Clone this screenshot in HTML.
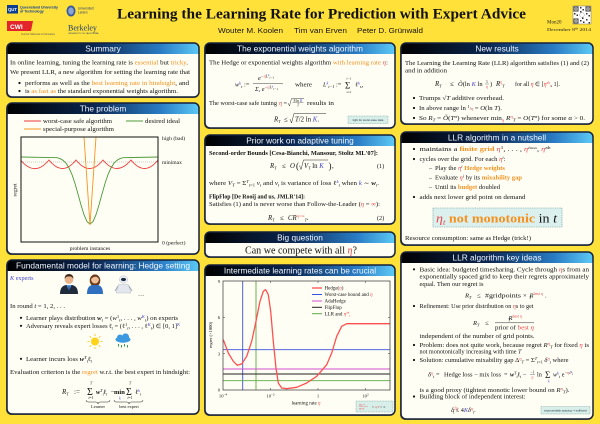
<!DOCTYPE html>
<html><head><meta charset="utf-8">
<style>
html,body{margin:0;padding:0;background:#FFE13A;width:600px;height:424px;overflow:hidden}
svg{display:block}
.o{fill:#F5901E}
.r{fill:#E8474B}
.bl{fill:#4545C8}
.i{font-style:italic}
.bd{font-weight:bold}
.h{font-family:"Liberation Sans",sans-serif;font-size:8.3px;fill:#F0F6FF;text-anchor:middle}
</style></head><body>
<svg width="600" height="424" viewBox="0 0 600 424" xmlns="http://www.w3.org/2000/svg">
<defs>
<linearGradient id="hg" x1="0" x2="1" y1="0" y2="0">
<stop offset="0" stop-color="#000"/>
<stop offset="0.45" stop-color="#0b2650"/>
<stop offset="0.8" stop-color="#2a7cc4"/>
<stop offset="1" stop-color="#5ccaf6"/>
</linearGradient>
</defs>
<rect width="600" height="424" fill="#FFE13A"/>

<!-- ===== HEADER ===== -->
<rect x="7" y="5" width="11" height="8.5" fill="#0b3d91"/>
<text x="12.5" y="11.2" font-family="Liberation Sans,sans-serif" font-size="4.3" font-weight="bold" fill="#fff" text-anchor="middle">QUT</text>
<text x="20" y="8.5" font-family="Liberation Sans,sans-serif" font-size="3.5" font-weight="bold" fill="#0b3d91">Queensland University</text>
<text x="20" y="12.3" font-family="Liberation Sans,sans-serif" font-size="3.5" font-weight="bold" fill="#0b3d91">of Technology</text>
<ellipse cx="71" cy="11" rx="4.5" ry="5.5" fill="#3a5a9a"/>
<ellipse cx="71" cy="11" rx="2.8" ry="3.6" fill="#8aa6d6"/>
<text x="78" y="9.5" font-family="Liberation Sans,sans-serif" font-size="3.2" fill="#2a3a6a">Universiteit</text>
<text x="78" y="13.5" font-family="Liberation Sans,sans-serif" font-size="3.2" fill="#2a3a6a">Leiden</text>
<polygon points="7,21 33,21 31,31 7,31" fill="#E3242B"/>
<text x="10" y="29" font-family="Liberation Sans,sans-serif" font-size="6.5" font-weight="bold" fill="#fff">CWI</text>
<text x="21" y="35" font-family="Liberation Sans,sans-serif" font-size="2.3" fill="#555">Centrum Wiskunde &amp; Informatica</text>
<text x="68" y="30.5" font-family="Liberation Serif,serif" font-size="8" fill="#1d3a6e">Berkeley</text>
<text x="68" y="34" font-family="Liberation Sans,sans-serif" font-size="2.2" fill="#1d3a6e">UNIVERSITY OF CALIFORNIA</text>

<text x="117" y="18.5" textLength="409" lengthAdjust="spacingAndGlyphs" font-family="Liberation Serif,serif" font-size="15" font-weight="bold" fill="#111">Learning the Learning Rate for Prediction with Expert Advice</text>
<g font-family="Liberation Sans,sans-serif" font-size="7.4" fill="#111">
<text x="218" y="33" textLength="65" lengthAdjust="spacingAndGlyphs">Wouter M. Koolen</text>
<text x="294" y="33" textLength="53" lengthAdjust="spacingAndGlyphs">Tim van Erven</text>
<text x="357" y="33" textLength="66" lengthAdjust="spacingAndGlyphs">Peter D. Grünwald</text>
</g>
<!-- QR -->
<rect x="573" y="6" width="18" height="18" fill="#fff" stroke="#555" stroke-width="0.4"/>
<g fill="#333">
<rect x="573.5" y="6.5" width="5" height="5"/><rect x="585.5" y="6.5" width="5" height="5"/><rect x="573.5" y="18.5" width="5" height="5"/>
<rect x="580" y="7" width="1.5" height="1.5"/><rect x="582.5" y="9" width="1.5" height="1.5"/><rect x="580" y="11" width="1.5" height="1.5"/>
<rect x="574" y="13" width="1.5" height="1.5"/><rect x="576.5" y="14.5" width="1.5" height="1.5"/><rect x="586" y="13" width="1.5" height="1.5"/>
<rect x="588.5" y="15" width="1.5" height="1.5"/><rect x="580" y="20" width="1.5" height="1.5"/><rect x="583" y="21.5" width="1.5" height="1.5"/>
<rect x="586" y="19" width="1.5" height="1.5"/><rect x="588.5" y="22" width="1.5" height="1.5"/><rect x="582" y="17.5" width="1.5" height="1.5"/>
</g>
<g fill="#fff"><rect x="574.5" y="7.5" width="3" height="3"/><rect x="586.5" y="7.5" width="3" height="3"/><rect x="574.5" y="19.5" width="3" height="3"/></g>
<g fill="#333"><rect x="575.3" y="8.3" width="1.4" height="1.4"/><rect x="587.3" y="8.3" width="1.4" height="1.4"/><rect x="575.3" y="20.3" width="1.4" height="1.4"/></g>
<circle cx="582" cy="15" r="2.3" fill="#fff" stroke="#888" stroke-width="0.4"/>
<text x="547" y="23.5" font-family="Liberation Serif,serif" font-size="5" fill="#222">Mon20</text>
<text x="547" y="31" textLength="44" lengthAdjust="spacingAndGlyphs" font-family="Liberation Serif,serif" font-size="4.2" fill="#222">December 8<tspan dy="-1.5" font-size="2.8">th</tspan><tspan dy="1.5"> 2014</tspan></text>

<!-- ===== BOX FRAMES ===== -->
<g>
<g fill="#1a2030" opacity="0.55">
<rect x="6" y="44" width="192" height="54" rx="5"/>
<rect x="6" y="104" width="192" height="151" rx="5"/>
<rect x="6" y="261" width="192" height="154" rx="5"/>
<rect x="204" y="44" width="190" height="85" rx="5"/>
<rect x="204" y="136" width="190" height="89" rx="5"/>
<rect x="204" y="233" width="190" height="25" rx="5"/>
<rect x="204" y="266" width="190" height="150" rx="5"/>
<rect x="400" y="44" width="192" height="81" rx="5"/>
<rect x="400" y="133" width="192" height="113" rx="5"/>
<rect x="400" y="253" width="192" height="167" rx="5"/>
</g>
<g fill="#FFFEF4">
<rect x="7" y="43" width="192" height="54" rx="5"/>
<rect x="7" y="103" width="192" height="151" rx="5"/>
<rect x="7" y="260" width="192" height="154" rx="5"/>
<rect x="205" y="43" width="190" height="85" rx="5"/>
<rect x="205" y="135" width="190" height="89" rx="5"/>
<rect x="205" y="232" width="190" height="25" rx="5"/>
<rect x="205" y="265" width="190" height="150" rx="5"/>
<rect x="401" y="43" width="192" height="81" rx="5"/>
<rect x="401" y="132" width="192" height="113" rx="5"/>
<rect x="401" y="252" width="192" height="167" rx="5"/>
</g>
<g fill="url(#hg)">
<path d="M7,54 V48 Q7,43 12,43 H194 Q199,43 199,48 V54 Z"/>
<path d="M7,114 V108 Q7,103 12,103 H194 Q199,103 199,108 V114 Z"/>
<path d="M7,271 V265 Q7,260 12,260 H194 Q199,260 199,265 V271 Z"/>
<path d="M205,54 V48 Q205,43 210,43 H390 Q395,43 395,48 V54 Z"/>
<path d="M205,146 V140 Q205,135 210,135 H390 Q395,135 395,140 V146 Z"/>
<path d="M205,243 V237 Q205,232 210,232 H390 Q395,232 395,237 V243 Z"/>
<path d="M205,276 V270 Q205,265 210,265 H390 Q395,265 395,270 V276 Z"/>
<path d="M401,54 V48 Q401,43 406,43 H588 Q593,43 593,48 V54 Z"/>
<path d="M401,143 V137 Q401,132 406,132 H588 Q593,132 593,137 V143 Z"/>
<path d="M401,263 V257 Q401,252 406,252 H588 Q593,252 593,257 V263 Z"/>
</g>
<g fill="none" stroke="#14203c" stroke-width="1.5">
<rect x="7" y="43" width="192" height="54" rx="5"/>
<rect x="7" y="103" width="192" height="151" rx="5"/>
<rect x="7" y="260" width="192" height="154" rx="5"/>
<rect x="205" y="43" width="190" height="85" rx="5"/>
<rect x="205" y="135" width="190" height="89" rx="5"/>
<rect x="205" y="232" width="190" height="25" rx="5"/>
<rect x="205" y="265" width="190" height="150" rx="5"/>
<rect x="401" y="43" width="192" height="81" rx="5"/>
<rect x="401" y="132" width="192" height="113" rx="5"/>
<rect x="401" y="252" width="192" height="167" rx="5"/>
</g>
<text class="h" x="103" y="51.6">Summary</text>
<text class="h" x="103" y="111.6">The problem</text>
<text class="h" x="103" y="268.6" textLength="174" lengthAdjust="spacingAndGlyphs">Fundamental model for learning: Hedge setting</text>
<text class="h" x="300" y="51.6">The exponential weights algorithm</text>
<text class="h" x="300" y="143.6">Prior work on adaptive tuning</text>
<text class="h" x="300" y="240.6">Big question</text>
<text class="h" x="300" y="273.6">Intermediate learning rates can be crucial</text>
<text class="h" x="497" y="51.6">New results</text>
<text class="h" x="497" y="140.6">LLR algorithm in a nutshell</text>
<text class="h" x="497" y="260.6">LLR algorithm key ideas</text>
</g>

<!-- ===== BODY TEXT ===== -->
<g font-family="Liberation Serif,serif" font-size="6.2" fill="#111">

<!-- Summary -->
<text x="10" y="64.5" textLength="178" lengthAdjust="spacingAndGlyphs">In online learning, tuning the learning rate is <tspan class="o">essential</tspan> but <tspan class="o">tricky</tspan>.</text>
<text x="10" y="74" textLength="180" lengthAdjust="spacingAndGlyphs">We present LLR, a new algorithm for setting the learning rate that</text>
<circle cx="19.5" cy="83" r="1.1"/>
<text x="25" y="85" textLength="164" lengthAdjust="spacingAndGlyphs">performs as well as the <tspan class="o">best learning rate in hindsight</tspan>, and</text>
<circle cx="19.5" cy="91" r="1.1"/>
<text x="25" y="93" textLength="153" lengthAdjust="spacingAndGlyphs">is <tspan class="o">as fast as</tspan> the standard exponential weights algorithm.</text>

<!-- Problem -->
<line x1="24" y1="121" x2="41" y2="121" stroke="#EE3B3B" stroke-width="0.9"/>
<text x="43" y="123" font-size="5.8" textLength="69" lengthAdjust="spacingAndGlyphs">worst-case safe algorithm</text>
<line x1="126" y1="121" x2="143" y2="121" stroke="#4C9A3A" stroke-width="0.9"/>
<text x="145" y="123" font-size="5.8" textLength="35" lengthAdjust="spacingAndGlyphs">desired ideal</text>
<line x1="24" y1="129" x2="41" y2="129" stroke="#F7941D" stroke-width="0.9"/>
<text x="43" y="131" font-size="5.8" textLength="71" lengthAdjust="spacingAndGlyphs">special-purpose algorithm</text>
<line x1="21" y1="162" x2="158" y2="162" stroke="#999" stroke-width="0.5" stroke-dasharray="1 1"/>
<path d="M21,160.5 Q35,177 49,160 Q62.5,177 76,160 Q89.5,177 103,160 Q117,177 131,160 Q144.5,177 158,160" fill="none" stroke="#EE3B3B" stroke-width="0.9"/>
<polyline points="21,157 57,157.7 60,158.6 63,160.3 66,163.2 69,167.9 72,174.6 75,183.5 78,194 81,205 84,214.7 87,221.6 90,224 93,221.6 96,214.7 99,205 102,194 105,183.5 108,174.6 111,167.9 114,163.2 117,160.3 120,158.6 123,157.7 158,157" fill="none" stroke="#4C9A3A" stroke-width="0.9"/>
<path d="M84,137 Q88.5,205 90,225 Q91.5,205 96,137" fill="none" stroke="#F7941D" stroke-width="0.9"/>
<rect x="21" y="137" width="137" height="105" fill="none" stroke="#111" stroke-width="1"/>
<text x="162" y="140" font-size="5.6">high (bad)</text>
<text x="162" y="164" font-size="5.6">minimax</text>
<text x="162" y="244.5" font-size="5.6">0 (perfect)</text>
<text x="90" y="250" font-size="5.6" text-anchor="middle">problem instances</text>
<text transform="translate(16.5,190) rotate(-90)" font-size="5.6" text-anchor="middle">regret</text>

<!-- Fundamental -->
<text x="10" y="280" class="bl"><tspan class="i">K</tspan> experts</text>
<path d="M60,294 Q60,286 66,285 L72,285 Q78,286 78,294 Z" fill="#1f2a3a"/>
<path d="M66.5,285 L69,291 L71.5,285 Z" fill="#5a9ae0"/>
<path d="M68.6,286 L69.4,286 L69.6,290 L69,291 L68.4,290 Z" fill="#1a3a7a"/>
<circle cx="69" cy="279.6" r="4.3" fill="#e9b48a"/>
<path d="M64.7,279 Q64.5,274 69,274 Q73.5,274 73.3,279 Q72,276 69,276.5 Q66,276 64.7,279 Z" fill="#3b2515"/>
<ellipse cx="95" cy="280.5" rx="5.3" ry="6" fill="#6b3b1a"/>
<path d="M87,294 Q87,286 92,285 L98,285 Q103,286 103,294 Z" fill="#2f6fc0"/>
<circle cx="95" cy="279.6" r="3.9" fill="#f0c09a"/>
<path d="M91,279 Q91,274.5 95,274.5 Q99,274.5 99,279 Q97,276.5 95,276.8 Q93,277 91,279Z" fill="#6b3b1a"/>
<path d="M118.5,284.5 L128.5,284.5 L131,293 L116,293 Z" fill="#e4e8ee" stroke="#a8b0bc" stroke-width="0.4"/>
<line x1="118" y1="286" x2="115" y2="291" stroke="#9aa4b0" stroke-width="1"/>
<line x1="129" y1="286" x2="132" y2="291" stroke="#9aa4b0" stroke-width="1"/>
<ellipse cx="123.5" cy="279.5" rx="4.2" ry="3.7" fill="#eef1f6" stroke="#a8b0bc" stroke-width="0.4"/>
<ellipse cx="123.5" cy="279.5" rx="2.6" ry="1.6" fill="#1a2a40"/>
<text x="138" y="296">…</text>

<text x="10" y="308" textLength="55" lengthAdjust="spacingAndGlyphs">In round <tspan class="i">t</tspan> = 1, 2, . . .</text>
<circle cx="21" cy="317.8" r="1.1"/>
<text x="26" y="320" textLength="152" lengthAdjust="spacingAndGlyphs">Learner plays distribution <tspan class="bd i">w</tspan><tspan dy="1.3" font-size="4.3" class="i">t</tspan><tspan dy="-1.3"> = (</tspan><tspan class="i">w</tspan><tspan dy="-2" font-size="4.3">1</tspan><tspan dy="3.3" font-size="4.3" class="i">t</tspan><tspan dy="-1.3">, . . . , </tspan><tspan class="i">w</tspan><tspan dy="-2" font-size="4.3" class="i bl">K</tspan><tspan dy="3.3" font-size="4.3" class="i">t</tspan><tspan dy="-1.3">) on experts</tspan></text>
<circle cx="21" cy="325.8" r="1.1"/>
<text x="26" y="328" textLength="154" lengthAdjust="spacingAndGlyphs">Adversary reveals expert losses <tspan class="bd">ℓ</tspan><tspan dy="1.3" font-size="4.3" class="i">t</tspan><tspan dy="-1.3"> = (ℓ</tspan><tspan dy="-2" font-size="4.3">1</tspan><tspan dy="3.3" font-size="4.3" class="i">t</tspan><tspan dy="-1.3">, . . . , ℓ</tspan><tspan dy="-2" font-size="4.3" class="i bl">K</tspan><tspan dy="3.3" font-size="4.3" class="i">t</tspan><tspan dy="-1.3">) ∈ [0, 1]</tspan><tspan dy="-2.2" font-size="4.3" class="i bl">K</tspan></text>
<g stroke="#F5C000" stroke-width="0.8">
<line x1="95" y1="334" x2="95" y2="336"/><line x1="95" y1="347" x2="95" y2="349"/>
<line x1="87.5" y1="341.5" x2="89.5" y2="341.5"/><line x1="100.5" y1="341.5" x2="102.5" y2="341.5"/>
<line x1="89.7" y1="336.2" x2="91.1" y2="337.6"/><line x1="98.9" y1="345.4" x2="100.3" y2="346.8"/>
<line x1="89.7" y1="346.8" x2="91.1" y2="345.4"/><line x1="98.9" y1="337.6" x2="100.3" y2="336.2"/>
</g>
<circle cx="95" cy="341.5" r="4" fill="#FFD31A"/>
<ellipse cx="123" cy="339.5" rx="7.5" ry="3.2" fill="#3d9ae0"/>
<circle cx="120" cy="337.5" r="3" fill="#3d9ae0"/>
<circle cx="125.5" cy="337" r="3.6" fill="#3d9ae0"/>
<g fill="#3aa050"><rect x="118" y="344" width="1" height="2.5"/><rect x="121" y="345" width="1" height="2.5"/><rect x="124" y="344" width="1" height="2.5"/><rect x="127" y="345" width="1" height="2.5"/></g>
<circle cx="21" cy="358.8" r="1.1"/>
<text x="26" y="361" textLength="66" lengthAdjust="spacingAndGlyphs">Learner incurs loss <tspan class="bd i">w</tspan><tspan dy="-2" font-size="4.3" class="i">T</tspan><tspan dy="3.3" font-size="4.3" class="i">t</tspan><tspan dy="-1.3" class="bd">ℓ</tspan><tspan dy="1.3" font-size="4.3" class="i">t</tspan></text>
<text x="10" y="374" textLength="180" lengthAdjust="spacingAndGlyphs">Evaluation criterion is the <tspan class="o">regret</tspan> w.r.t. the best expert in hindsight:</text>
<text x="62" y="394" class="i" font-size="7">R<tspan dy="1.3" font-size="4.3">T</tspan></text>
<text x="74" y="394" font-size="7">:=</text>
<text x="87" y="395" font-size="10">Σ</text>
<text x="91" y="384.5" font-size="3.8" text-anchor="middle" class="i">T</text>
<text x="91" y="399" font-size="3.8" text-anchor="middle"><tspan class="i">t</tspan>=1</text>
<text x="96" y="394" font-size="6.5"><tspan class="bd i">w</tspan><tspan dy="-2" font-size="4" class="i">T</tspan><tspan dy="3.3" font-size="4" class="i">t</tspan><tspan dy="-1.3" class="bd">ℓ</tspan><tspan dy="1.3" font-size="4" class="i">t</tspan></text>
<text x="110.5" y="394" font-size="6.5">−</text>
<text x="114" y="394" font-size="6.5" class="bd">min</text>
<text x="119" y="399.5" font-size="3.8" class="i bl">k</text>
<text x="126" y="395" font-size="10">Σ</text>
<text x="130" y="384.5" font-size="3.8" text-anchor="middle" class="i">T</text>
<text x="130" y="399" font-size="3.8" text-anchor="middle"><tspan class="i">t</tspan>=1</text>
<text x="135" y="394" font-size="6.5">ℓ<tspan dy="-2.2" font-size="4" class="i bl">k</tspan><tspan dy="3.5" font-size="4" class="i">t</tspan></text>
<path d="M86,400 Q86,402 88,402 H96 Q98,402 98,404 Q98,402 100,402 H108 Q110,402 110,400" fill="none" stroke="#222" stroke-width="0.5"/>
<path d="M114,400 Q114,402 116,402 H127 Q129,402 129,404 Q129,402 131,402 H141 Q143,402 143,400" fill="none" stroke="#222" stroke-width="0.5"/>
<text x="98" y="408" font-size="4.5" text-anchor="middle">Learner</text>
<text x="129" y="408" font-size="4.5" text-anchor="middle">best expert</text>

<!-- ===== MIDDLE ===== -->
<text x="209" y="64.5" textLength="179" lengthAdjust="spacingAndGlyphs">The Hedge or exponential weights algorithm <tspan class="o">with learning rate </tspan><tspan class="r i">η</tspan>:</text>
<text x="235" y="86.5" class="i">w<tspan dy="-2.2" font-size="4.3" class="bl">k</tspan><tspan dy="3.5" font-size="4.3">t</tspan></text>
<text x="244" y="86.5">:=</text>
<text x="258" y="80" class="i">e<tspan dy="-2.5" font-size="4.2">−<tspan class="r">η</tspan>L<tspan dy="-1.3" font-size="3.3" class="bl">k</tspan><tspan dy="2.4" font-size="3.3">t−1</tspan></tspan></text>
<line x1="253" y1="83.5" x2="283" y2="83.5" stroke="#111" stroke-width="0.4"/>
<text x="255" y="91" class="i">Σ<tspan dy="1.2" font-size="3.5" class="bl">k</tspan><tspan dy="-1.2"> e</tspan><tspan dy="-2.3" font-size="4.2">−<tspan class="r">η</tspan>L<tspan dy="-1.3" font-size="3.3" class="bl">k</tspan><tspan dy="2.4" font-size="3.3">t−1</tspan></tspan></text>
<text x="295" y="86.5" textLength="17" lengthAdjust="spacingAndGlyphs">where</text>
<text x="323" y="86.5" class="i">L<tspan dy="-2.2" font-size="4.3" class="bl">k</tspan><tspan dy="3.5" font-size="4.3">t−1</tspan></text>
<text x="336" y="86.5">:=</text>
<text x="345" y="88.5" font-size="9">Σ</text>
<text x="349" y="79.5" font-size="3.5" text-anchor="middle" class="i">t−1</text>
<text x="349" y="93" font-size="3.5" text-anchor="middle"><tspan class="i">s</tspan>=1</text>
<text x="355" y="86.5">ℓ<tspan dy="-2.2" font-size="4.3" class="i bl">k</tspan><tspan dy="3.5" font-size="4.3" class="i">s</tspan><tspan dy="-1.3">,</tspan></text>

<text x="209" y="105" textLength="68" lengthAdjust="spacingAndGlyphs">The worst-case safe tuning</text>
<text x="279" y="105" class="r i">η</text>
<text x="283.5" y="105">=</text>
<path d="M288,103 L289.5,106 L291.5,98.5 H304" fill="none" stroke="#111" stroke-width="0.4"/>
<text x="298" y="101.8" font-size="3.6" text-anchor="middle">8 ln <tspan class="i bl">K</tspan></text>
<line x1="292.5" y1="102.7" x2="303.5" y2="102.7" stroke="#111" stroke-width="0.3"/>
<text x="298" y="106.3" font-size="3.6" text-anchor="middle" class="i">T</text>
<text x="307" y="105" textLength="27" lengthAdjust="spacingAndGlyphs">results in</text>

<text x="274" y="121.5" class="i" font-size="6.8">R<tspan dy="1.3" font-size="4.3">T</tspan></text>
<text x="284" y="121.5" font-size="6.8">≤</text>
<path d="M290,119 L291.5,123 L294,113.5 H326" fill="none" stroke="#111" stroke-width="0.45"/>
<text x="295" y="121.5" font-size="6.8"><tspan class="i">T</tspan>/2 ln <tspan class="i bl">K</tspan>.</text>
<rect x="348" y="116" width="40" height="7.5" fill="#D8EFE9" stroke="#5a8a90" stroke-width="0.4" stroke-dasharray="1 0.6"/>
<text x="368" y="121" font-size="2.9" text-anchor="middle" font-family="Liberation Sans,sans-serif" fill="#234">tight for worst-case data</text>

<!-- Prior work -->
<text x="209" y="155" textLength="169" lengthAdjust="spacingAndGlyphs" class="bd">Second-order Bounds [Cesa-Bianchi, Mansour, Stoltz ML'07]:</text>
<text x="270" y="168" class="i" font-size="6.8">R<tspan dy="1.3" font-size="4.3">T</tspan></text>
<text x="282" y="168" font-size="6.8">≤</text>
<text x="290" y="168" font-size="6.8" class="i">O</text>
<text x="296" y="169" font-size="9">(</text>
<path d="M299.5,165.5 L301,169.5 L303.5,160 H328" fill="none" stroke="#111" stroke-width="0.45"/>
<text x="304" y="168" font-size="6.8"><tspan class="i">V</tspan><tspan dy="1.3" font-size="4.3" class="i">T</tspan><tspan dy="-1.3"> ln </tspan><tspan class="i bl">K</tspan></text>
<text x="328.5" y="169" font-size="9">)</text>
<text x="332" y="168" font-size="6.8">,</text>
<text x="377" y="168">(1)</text>
<text x="209" y="185" textLength="170" lengthAdjust="spacingAndGlyphs">where <tspan class="i">V</tspan><tspan dy="1.3" font-size="4.3" class="i">T</tspan><tspan dy="-1.3"> = Σ</tspan><tspan dy="-2.2" font-size="4" class="i">T</tspan><tspan dy="3.5" font-size="4"><tspan class="i">t</tspan>=1</tspan><tspan dy="-1.3"> </tspan><tspan class="i">v</tspan><tspan dy="1.3" font-size="4.3" class="i">t</tspan><tspan dy="-1.3"> and </tspan><tspan class="i">v</tspan><tspan dy="1.3" font-size="4.3" class="i">t</tspan><tspan dy="-1.3"> is variance of loss ℓ</tspan><tspan dy="-2.2" font-size="4.3" class="i bl">k</tspan><tspan dy="3.5" font-size="4.3" class="i">t</tspan><tspan dy="-1.3"> when </tspan><tspan class="i bl">k</tspan><tspan> ∼ </tspan><tspan class="bd i">w</tspan><tspan dy="1.3" font-size="4.3" class="i">t</tspan><tspan dy="-1.3">.</tspan></text>
<text x="209" y="198.5" textLength="96" lengthAdjust="spacingAndGlyphs" class="bd">FlipFlop [De Rooij and us, JMLR'14]:</text>
<text x="209" y="206" textLength="171" lengthAdjust="spacingAndGlyphs">Satisfies (1) and is never worse than Follow-the-Leader (<tspan class="r i">η</tspan> = <tspan class="r">∞</tspan>):</text>
<text x="268" y="220" class="i" font-size="6.8">R<tspan dy="1.3" font-size="4.3">T</tspan></text>
<text x="280" y="220" font-size="6.8">≤</text>
<text x="288" y="220" font-size="6.8" class="i">CR<tspan dy="-2.5" font-size="4.2" class="r">η=∞</tspan><tspan dy="3.8" font-size="4.2">T</tspan><tspan dy="-1.3" font-style="normal">.</tspan></text>
<text x="377" y="220">(2)</text>

<!-- Big question -->
<text x="245" y="253.5" textLength="112" lengthAdjust="spacingAndGlyphs" font-size="10.5">Can we compete with all <tspan class="r i">η</tspan>?</text>

<!-- Intermediate chart -->
<g stroke-width="0.9" fill="none">
<line x1="242.7" y1="281" x2="242.7" y2="390" stroke="#3a50e0"/>
<line x1="256" y1="281" x2="256" y2="390" stroke="#5aaa40"/>
<line x1="223" y1="349.7" x2="390" y2="349.7" stroke="#3a50e0"/>
<line x1="223" y1="369" x2="390" y2="369" stroke="#d050d0"/>
<line x1="223" y1="374" x2="390" y2="374" stroke="#222"/>
<line x1="223" y1="380.7" x2="390" y2="380.7" stroke="#5aaa40"/>
<polyline stroke="#ff5050" stroke-width="1.3" stroke-linejoin="round" points="223.3,339.7 228.3,353 233.3,361.3 237.3,365.3 241.7,364 246.7,356.3 251.7,341.3 256,321.3 260,301.3 263.3,291.3 265.7,289.7 268.3,294.7 270.7,311.3 273.3,341.3 276,368 278.3,383 281.7,388 286.7,388.7 296.7,387.3 306.7,383 316.7,376.3 326.7,364.7 331.7,353 336.7,336.3 341.7,326.3 346.7,323.7 390,323.7"/>
<rect x="223" y="281" width="167" height="109" stroke="#333" stroke-width="0.7"/>
</g>
<g stroke="#333" stroke-width="0.5">
<line x1="223" y1="317.3" x2="225" y2="317.3"/><line x1="223" y1="353.7" x2="225" y2="353.7"/>
<line x1="388" y1="317.3" x2="390" y2="317.3"/><line x1="388" y1="353.7" x2="390" y2="353.7"/>
<line x1="270.5" y1="390" x2="270.5" y2="388"/><line x1="318" y1="390" x2="318" y2="388"/><line x1="365.5" y1="390" x2="365.5" y2="388"/>
<line x1="270.5" y1="281" x2="270.5" y2="283"/><line x1="318" y1="281" x2="318" y2="283"/><line x1="365.5" y1="281" x2="365.5" y2="283"/>
</g>
<g font-size="4.6">
<text x="220" y="283" text-anchor="end">9</text>
<text x="220" y="319" text-anchor="end">6</text>
<text x="220" y="355.5" text-anchor="end">3</text>
<text x="220" y="391.5" text-anchor="end">0</text>
<text x="223" y="397.5" text-anchor="middle">10<tspan dy="-1.8" font-size="3.4">−4</tspan></text>
<text x="270.5" y="397.5" text-anchor="middle">10<tspan dy="-1.8" font-size="3.4">−2</tspan></text>
<text x="318" y="397.5" text-anchor="middle">1</text>
<text x="365.5" y="397.5" text-anchor="middle">10<tspan dy="-1.8" font-size="3.4">2</tspan></text>
</g>
<text x="306" y="404.5" font-size="5" text-anchor="middle">learning rate <tspan class="r i">η</tspan></text>
<text transform="translate(212,335) rotate(-90)" font-size="4.5" text-anchor="middle">regret (×1000)</text>
<g stroke-width="1">
<line x1="312" y1="288" x2="322" y2="288" stroke="#ff5050" stroke-width="1.3"/>
<line x1="312" y1="294.5" x2="322" y2="294.5" stroke="#3a50e0"/>
<line x1="312" y1="301" x2="322" y2="301" stroke="#d050d0"/>
<line x1="312" y1="307.3" x2="322" y2="307.3" stroke="#222"/>
<line x1="312" y1="313.7" x2="322" y2="313.7" stroke="#5aaa40"/>
</g>
<g font-size="5">
<text x="324.5" y="289.7">Hedge(<tspan class="r i">η</tspan>)</text>
<text x="324.5" y="296.2">Worst-case bound and <tspan class="r i">η</tspan></text>
<text x="324.5" y="302.7">AdaHedge</text>
<text x="324.5" y="309">FlipFlop</text>
<text x="324.5" y="315.4">LLR and <tspan class="r i">η</tspan><tspan dy="-1.8" font-size="3.4" class="r">ah</tspan><tspan dy="3.2" font-size="3.4" class="r i">t</tspan></text>
</g>
<rect x="356" y="401" width="37" height="11" fill="#D8EFE9" stroke="#5a8a90" stroke-width="0.4" stroke-dasharray="1 0.6"/>
<text x="359" y="405.5" font-size="3" class="r i">η<tspan font-size="2.3">ah</tspan> <tspan font-style="normal">≈</tspan></text>
<line x1="359" y1="406.5" x2="368" y2="406.5" stroke="#E8474B" stroke-width="0.3"/>
<text x="359" y="409.7" font-size="3" class="r i">η<tspan font-size="2.3">FTL</tspan></text>
<text x="372" y="408" font-size="3.4" fill="#234">≈ <tspan class="r">η/T</tspan> ≈ ∞</text>

<!-- ===== RIGHT ===== -->
<text x="405" y="65" textLength="184" lengthAdjust="spacingAndGlyphs">The Learning the Learning Rate (LLR) algorithm satisfies (1) and (2)</text>
<text x="405" y="72.5" textLength="42" lengthAdjust="spacingAndGlyphs">and in addition</text>
<text x="435" y="86" class="i" font-size="6.8">R<tspan dy="1.3" font-size="4.3">T</tspan></text>
<text x="450" y="86" font-size="6.8">≤</text>
<text x="458" y="86" font-size="6.5"><tspan class="i">Õ</tspan>(ln <tspan class="i bl">K</tspan> ln</text>
<text x="487" y="82.8" font-size="3.8" text-anchor="middle">1</text>
<line x1="485" y1="84" x2="489" y2="84" stroke="#111" stroke-width="0.3"/>
<text x="487" y="88" font-size="3.8" text-anchor="middle" class="r i">η</text>
<text x="490" y="86" font-size="6.5">)</text>
<text x="496" y="86" class="i" font-size="6.8">R<tspan dy="-2.4" font-size="4.2" class="r">η</tspan><tspan dy="3.7" font-size="4.2">T</tspan></text>
<text x="515" y="86" textLength="45" lengthAdjust="spacingAndGlyphs">for all <tspan class="r i">η</tspan> ∈ [<tspan class="r i">η</tspan><tspan dy="-2" font-size="3.6" class="r">ah</tspan><tspan dy="3.2" font-size="3.6" class="r i">t</tspan><tspan dy="-1.2">, 1].</tspan></text>
<circle cx="414" cy="98" r="1.1"/>
<text x="419" y="100" textLength="85" lengthAdjust="spacingAndGlyphs">Trumps √<tspan class="i">T</tspan> additive overhead.</text>
<circle cx="414" cy="108" r="1.1"/>
<text x="419" y="110" textLength="83" lengthAdjust="spacingAndGlyphs">In above range ln <tspan dy="-1.8" font-size="4">1</tspan><tspan dy="1.8" font-size="4">/</tspan><tspan class="r i" font-size="4">η</tspan> = <tspan class="i">O</tspan>(ln <tspan class="i">T</tspan>).</text>
<circle cx="414" cy="118" r="1.1"/>
<text x="419" y="120" textLength="166" lengthAdjust="spacingAndGlyphs">So <tspan class="i">R</tspan><tspan dy="1.3" font-size="4.3" class="i">T</tspan><tspan dy="-1.3"> = </tspan><tspan class="i">Õ</tspan>(<tspan class="i">T</tspan><tspan dy="-2" font-size="4.3" class="i">α</tspan><tspan dy="2">) whenever min</tspan><tspan dy="1.3" font-size="4.3" class="r i">η</tspan><tspan dy="-1.3"> </tspan><tspan class="i">R</tspan><tspan dy="-2.2" font-size="4.3" class="r i">η</tspan><tspan dy="3.5" font-size="4.3" class="i">T</tspan><tspan dy="-1.3"> = </tspan><tspan class="i">O</tspan>(<tspan class="i">T</tspan><tspan dy="-2" font-size="4.3" class="i">α</tspan><tspan dy="2">) for some </tspan><tspan class="i">α</tspan> &gt; 0.</text>

<!-- Nutshell -->
<circle cx="414" cy="149" r="1.1"/>
<text x="419.5" y="151" textLength="131" lengthAdjust="spacingAndGlyphs">maintains a <tspan class="o bd">finite grid</tspan> <tspan class="r i">η</tspan><tspan dy="-2.2" font-size="4.2">1</tspan><tspan dy="2.2">, . . . , </tspan><tspan class="r i">η</tspan><tspan dy="-2.2" font-size="4.2" class="i">i</tspan><tspan font-size="3.2">max</tspan><tspan dy="2.2">, </tspan><tspan class="r i">η</tspan><tspan dy="-2.2" font-size="4.2">ah</tspan></text>
<circle cx="414" cy="159" r="1.1"/>
<text x="419.5" y="161" textLength="86" lengthAdjust="spacingAndGlyphs">cycles over the grid. For each <tspan class="r i">η</tspan><tspan dy="-2.2" font-size="4.2" class="i">i</tspan><tspan dy="2.2">:</tspan></text>
<text x="429" y="170">–</text>
<text x="435" y="170" textLength="70" lengthAdjust="spacingAndGlyphs">Play the <tspan class="r i">η</tspan><tspan dy="-2.2" font-size="4.2" class="i">i</tspan><tspan dy="2.2"> </tspan><tspan class="o bd">Hedge weights</tspan></text>
<text x="429" y="179.5">–</text>
<text x="435" y="179.5" textLength="87" lengthAdjust="spacingAndGlyphs">Evaluate <tspan class="r i">η</tspan><tspan dy="-2.2" font-size="4.2" class="i">i</tspan><tspan dy="2.2"> by its </tspan><tspan class="o bd">mixability gap</tspan></text>
<text x="429" y="189">–</text>
<text x="435" y="189" textLength="65" lengthAdjust="spacingAndGlyphs">Until its <tspan class="o bd">budget</tspan> doubled</text>
<circle cx="414" cy="197" r="1.1"/>
<text x="419.5" y="199" textLength="106" lengthAdjust="spacingAndGlyphs">adds next lower grid point on demand</text>
<rect x="433" y="208" width="129" height="19" fill="#DCF1EE" stroke="#6a9aa0" stroke-width="0.6" stroke-dasharray="1.5 0.8"/>
<text x="436" y="222.5" font-size="13" textLength="121" lengthAdjust="spacingAndGlyphs"><tspan class="r i">η</tspan><tspan dy="2.5" font-size="8" class="r i">t</tspan><tspan dy="-2.5" class="o bd"> not monotonic</tspan> in <tspan class="i">t</tspan></text>
<text x="405" y="240" textLength="126" lengthAdjust="spacingAndGlyphs">Resource consumption: same as Hedge (trick!)</text>

<!-- Key ideas -->
<circle cx="414" cy="269.3" r="1.1"/>
<text x="419.5" y="271.3" textLength="169.5" lengthAdjust="spacingAndGlyphs">Basic idea: budgeted timesharing. Cycle through <tspan class="r i">η</tspan>s from an</text>
<text x="419.5" y="278.7" textLength="169.5" lengthAdjust="spacingAndGlyphs">exponentially spaced grid to keep their regrets approximately</text>
<text x="419.5" y="286" textLength="64" lengthAdjust="spacingAndGlyphs">equal. Then our regret is</text>
<text x="465" y="297.5" class="i" font-size="6.6">R<tspan dy="1.3" font-size="4.2">T</tspan></text>
<text x="477" y="297.5" font-size="6.6">≤</text>
<text x="485" y="297.5" font-size="6.6" textLength="36" lengthAdjust="spacingAndGlyphs">#gridpoints</text>
<text x="523" y="297.5" font-size="6.6">×</text>
<text x="529" y="297.5" class="i" font-size="6.6">R<tspan dy="-2.4" font-size="4" class="r" font-style="normal">best <tspan class="i">η</tspan></tspan><tspan dx="-14" dy="3.7" font-size="4.2">T</tspan></text>
<text x="545" y="297.5" font-size="6.6">.</text>
<circle cx="414" cy="306" r="1.1"/>
<text x="419.5" y="308" textLength="114" lengthAdjust="spacingAndGlyphs">Refinement: Use prior distribution on <tspan class="r i">η</tspan>s to get</text>
<text x="473" y="325" class="i" font-size="6.6">R<tspan dy="1.3" font-size="4.2">T</tspan></text>
<text x="485" y="325" font-size="6.6">≤</text>
<text x="508" y="320" class="i" font-size="6.6">R<tspan dy="-2.4" font-size="4" class="r" font-style="normal">best <tspan class="i">η</tspan></tspan><tspan dx="-14" dy="3.7" font-size="4.2">T</tspan></text>
<line x1="495" y1="322.8" x2="534" y2="322.8" stroke="#111" stroke-width="0.45"/>
<text x="495" y="329.5" font-size="6.2" textLength="39" lengthAdjust="spacingAndGlyphs">prior of <tspan class="r">best <tspan class="i">η</tspan></tspan></text>
<text x="419.5" y="338" textLength="115" lengthAdjust="spacingAndGlyphs">independent of the number of grid points.</text>
<circle cx="414" cy="345" r="1.1"/>
<text x="419.5" y="347" textLength="169.5" lengthAdjust="spacingAndGlyphs">Problem: does not quite work, because regret <tspan class="i">R</tspan><tspan dy="-2.2" font-size="4.2" class="r i">η</tspan><tspan dy="3.5" font-size="4.2" class="i">T</tspan><tspan dy="-1.3"> for fixed </tspan><tspan class="r i">η</tspan> is</text>
<text x="419.5" y="353.5" textLength="102" lengthAdjust="spacingAndGlyphs">not monotonically increasing with time <tspan class="i">T</tspan></text>
<circle cx="414" cy="360" r="1.1"/>
<text x="419.5" y="362" textLength="149" lengthAdjust="spacingAndGlyphs">Solution: cumulative mixability gap Δ<tspan dy="-2.2" font-size="4.2" class="r i">η</tspan><tspan dy="3.5" font-size="4.2" class="i">T</tspan><tspan dy="-1.3"> = Σ</tspan><tspan dy="-2.2" font-size="4" class="i">T</tspan><tspan dy="3.5" font-size="4"><tspan class="i">t</tspan>=1</tspan><tspan dy="-1.3"> </tspan><tspan class="i">δ</tspan><tspan dy="-2.2" font-size="4.2" class="r i">η</tspan><tspan dy="3.5" font-size="4.2" class="i">t</tspan><tspan dy="-1.3"> where</tspan></text>
<text x="428" y="376.5" class="i">δ<tspan dy="-2.2" font-size="4.2" class="r">η</tspan><tspan dy="3.5" font-size="4.2">t</tspan></text>
<text x="436" y="376.5">=</text>
<text x="444" y="376.5" textLength="57" lengthAdjust="spacingAndGlyphs">Hedge loss − mix loss</text>
<text x="504" y="376.5">=</text>
<text x="510" y="376.5"><tspan class="bd i">w</tspan><tspan dy="-2" font-size="4.2" class="i">T</tspan><tspan dy="3.3" font-size="4.2" class="i">t</tspan><tspan dy="-1.3" class="bd">ℓ</tspan><tspan dy="1.3" font-size="4.2" class="i">t</tspan><tspan dy="-1.3"> −</tspan></text>
<text x="532.5" y="373.3" font-size="3.8" text-anchor="middle">−1</text>
<line x1="530" y1="374.5" x2="535" y2="374.5" stroke="#111" stroke-width="0.3"/>
<text x="532.5" y="378.5" font-size="3.8" text-anchor="middle" class="r i">η</text>
<text x="537" y="376.5">ln</text>
<text x="545" y="378" font-size="9">Σ</text>
<text x="548" y="382.5" font-size="3.6" class="i bl">k</text>
<text x="553" y="376.5" class="i">w<tspan dy="-2.2" font-size="4.2" class="bl">k</tspan><tspan dy="3.5" font-size="4.2">t</tspan><tspan dy="-1.3" font-style="normal"> e</tspan><tspan dy="-2.4" font-size="4">−<tspan class="r">η</tspan>ℓ<tspan dy="-1.2" font-size="3.2" class="bl">k</tspan><tspan dy="2.2" font-size="3.2">t</tspan></tspan></text>
<text x="419.5" y="392" textLength="150" lengthAdjust="spacingAndGlyphs">is a good proxy (tightest monotic lower bound on <tspan class="i">R</tspan><tspan dy="-2.2" font-size="4.2" class="r i">η</tspan><tspan dy="3.5" font-size="4.2" class="i">T</tspan><tspan dy="-1.3">).</tspan></text>
<circle cx="414" cy="396.5" r="1.1"/>
<text x="419.5" y="398.5" textLength="106" lengthAdjust="spacingAndGlyphs">Building block of independent interest:</text>
<text x="451" y="412" class="i">δ<tspan dy="-2.4" font-size="4.2" class="r">2η</tspan><tspan dx="-5" dy="3.7" font-size="4.2">t</tspan><tspan dy="-1.3" font-style="normal">  ≤  4</tspan><tspan class="bl">K</tspan>δ<tspan dy="-2.2" font-size="4.2" class="r">η</tspan><tspan dy="3.5" font-size="4.2">t</tspan><tspan dy="-1.3" font-style="normal">.</tspan></text>
<rect x="541" y="406.5" width="49" height="7.5" fill="#D8EFE9" stroke="#5a8a90" stroke-width="0.4" stroke-dasharray="1 0.6"/>
<text x="565.5" y="411.3" font-size="2.9" text-anchor="middle" font-family="Liberation Sans,sans-serif" fill="#234">exponentially spacing ⇒ sufficient</text>
</g>
</svg>
</body></html>
